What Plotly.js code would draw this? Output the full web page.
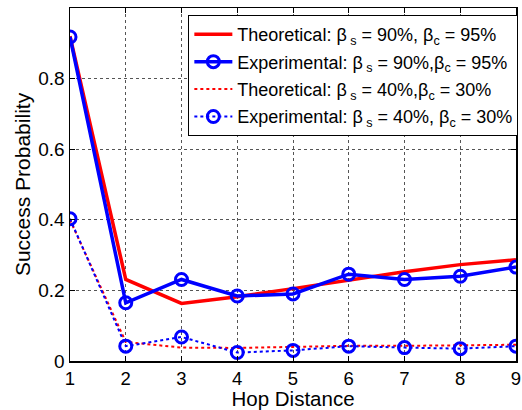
<!DOCTYPE html>
<html>
<head>
<meta charset="utf-8">
<script src="https://cdn.plot.ly/plotly-3.0.1.min.js"></script>
<style>html,body{margin:0;padding:0;background:#fff}#chart{width:522px;height:410px}</style>
</head>
<body>
<div id="chart"></div>
<script>
const hops = [1, 2, 3, 4, 5, 6, 7, 8, 9];
const theoHigh = [0.92, 0.231, 0.163, 0.182, 0.205, 0.228, 0.253, 0.273, 0.287];
const expHigh = [0.918, 0.165, 0.231, 0.184, 0.19, 0.246, 0.231, 0.24, 0.266];
const theoLow = [0.40, 0.054, 0.038, 0.037, 0.04, 0.043, 0.043, 0.045, 0.046];
const expLow = [0.403, 0.042, 0.068, 0.024, 0.03, 0.042, 0.038, 0.035, 0.042];
const names = [
  'Theoretical: β<sub> s</sub> = 90%, β<sub>c</sub> = 95%',
  'Experimental: β<sub> s</sub> = 90%,β<sub>c</sub> = 95%',
  'Theoretical: β<sub> s</sub> = 40%,β<sub>c</sub> = 30%',
  'Experimental: β<sub> s</sub> = 40%, β<sub>c</sub> = 30%'
];
const xTicks = [1, 2, 3, 4, 5, 6, 7, 8, 9];
const yTicks = [0, 0.2, 0.4, 0.6, 0.8, 1];
const yTickText = ['0', '0.2', '0.4', '0.6', '0.8', '1'];

const mk = {symbol: 'circle-open', size: 12, color: '#0000ff', line: {width: 3, color: '#0000ff'}};
const traces = [
  {x: hops, y: theoHigh, name: names[0], legendgroup: 'a', mode: 'lines', line: {color: '#ff0000', width: 3.5}},
  {x: hops, y: expHigh, name: names[1], legendgroup: 'b', mode: 'lines+markers', line: {color: '#0000ff', width: 3.5}, marker: mk},
  {x: hops, y: theoLow, name: names[2], legendgroup: 'c', mode: 'lines', line: {color: '#ff0000', width: 2, dash: 'dot'}},
  {x: hops, y: expLow, name: names[3], legendgroup: 'd', mode: 'lines+markers', line: {color: '#0000ff', width: 2, dash: 'dot'}, marker: mk}
];

const axisCommon = {
  showline: true, linecolor: '#000', linewidth: 1.5, mirror: 'ticks',
  ticks: 'inside', ticklen: 5, tickcolor: '#000',
  showgrid: true, gridcolor: '#555', griddash: 'dot', gridwidth: 1,
  zeroline: false, automargin: false,
  tickfont: {family: 'Liberation Sans, Arial, sans-serif', size: 19, color: '#000'}
};

const layout = {
  width: 522, height: 410,
  margin: {l: 70, r: 5, t: 8, b: 49},
  paper_bgcolor: '#fff', plot_bgcolor: '#fff',
  font: {family: 'Liberation Sans, Arial, sans-serif', color: '#000'},
  showlegend: true,
  xaxis: Object.assign({}, axisCommon, {
    range: [1, 9], tickvals: xTicks,
    tickfont: {family: 'Liberation Sans, Arial, sans-serif', size: 18.5, color: '#000'},
    title: {text: 'Hop Distance', font: {size: 20.5, color: '#000'}, standoff: 0}
  }),
  yaxis: Object.assign({}, axisCommon, {
    range: [0, 1], tickvals: yTicks, ticktext: yTickText,
    title: {text: 'Success Probability', font: {size: 21, color: '#000'}, standoff: 2}
  }),
  legend: {
    x: 1.003, xanchor: 'right', y: 0.98, yanchor: 'top',
    bgcolor: '#fff', bordercolor: '#000', borderwidth: 1,
    font: {family: 'Liberation Sans, Arial, sans-serif', size: 18, color: '#000'},
    traceorder: 'grouped', tracegroupgap: 1, itemwidth: 38
  }
};

Plotly.newPlot('chart', traces, layout, {displayModeBar: false, staticPlot: true});
</script>
</body>
</html>
